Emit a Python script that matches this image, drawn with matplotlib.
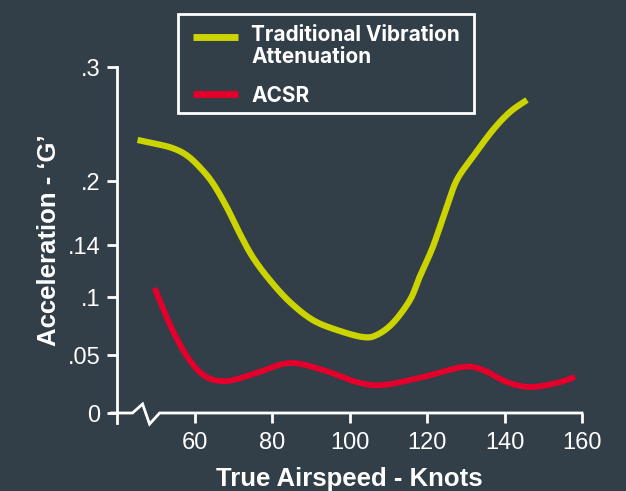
"""Vibration level vs airspeed: traditional attenuation against ACSR."""

import matplotlib

matplotlib.use("Agg")
import matplotlib.pyplot as plt
import matplotlib.transforms as mtransforms
from matplotlib.lines import Line2D
from matplotlib.patches import Rectangle
import numpy as np


PALETTE = {
    "bg": "#323E48",
    "ink": "#FFFFFF",
    "yellow": "#CCD400",
    "red": "#E4002B",
}

# data (knots, G)
trad_knots = [45.3, 50.2, 54.3, 57.9, 61.3, 64.7, 68.3, 71.6, 75.0, 79.4, 84.6, 90.5,
              96.7, 103.4, 107.0, 111.2, 115.6, 118.1, 121.5, 125.1, 127.7, 131.8,
              137.0, 141.4, 145.8]
trad_g = [0.236, 0.2325, 0.2289, 0.2228, 0.2123, 0.1981, 0.1756, 0.1513, 0.1308, 0.1131,
          0.0957, 0.0802, 0.0716, 0.0655, 0.0672, 0.0776, 0.0974, 0.1154, 0.1385, 0.1756,
          0.2009, 0.2211, 0.2447, 0.2605, 0.2711]

acsr_knots = [49.7, 54.3, 58.7, 63.1, 68.5, 76.0, 84.5, 93.1, 101.9, 108.6,
              118.9, 129.3, 134.4, 140.6, 146.6, 153.5, 158.2]
acsr_g = [0.1069, 0.0716, 0.0457, 0.031, 0.0276, 0.0345, 0.0431, 0.0371, 0.0267, 0.0241,
          0.031, 0.0397, 0.0371, 0.0267, 0.0224, 0.0259, 0.031]

x_ticks = [60, 80, 100, 120, 140, 160]
y_ticks = [0, 0.05, 0.1, 0.14, 0.2, 0.3]
y_tick_labels = ["0", ".05", ".1", ".14", ".2", ".3"]
# the printed axis is not linear: relative spacing of the gridded ticks
y_tick_pos = [0, 58, 116, 168, 232, 346]


def y_forward(v):
    return np.interp(v, y_ticks, y_tick_pos)


def y_inverse(p):
    return np.interp(p, y_tick_pos, y_ticks)


def smooth(xs, ys, n=24):
    """Catmull-Rom pass through the points in scaled space (drawing only)."""
    pts = np.column_stack([xs, y_forward(np.asarray(ys))])
    pts = np.vstack([2 * pts[0] - pts[1], pts, 2 * pts[-1] - pts[-2]])
    out = []
    t = np.linspace(0, 1, n, endpoint=False)[:, None]
    for i in range(1, len(pts) - 2):
        p0, p1, p2, p3 = pts[i - 1], pts[i], pts[i + 1], pts[i + 2]
        seg = 0.5 * ((2 * p1) + (-p0 + p2) * t + (2 * p0 - 5 * p1 + 4 * p2 - p3) * t ** 2
                     + (-p0 + 3 * p1 - 3 * p2 + p3) * t ** 3)
        out.append(seg)
    out.append(pts[-2][None, :])
    out = np.vstack(out)
    return out[:, 0], y_inverse(out[:, 1])


plt.rcParams.update({
    "font.family": ["Liberation Sans", "DejaVu Sans"],
    "text.color": PALETTE["ink"],
    "axes.labelcolor": PALETTE["ink"],
    "axes.edgecolor": PALETTE["ink"],
    "xtick.color": PALETTE["ink"],
    "ytick.color": PALETTE["ink"],
})

fig = plt.figure(figsize=(6.26, 4.91), dpi=100, facecolor=PALETTE["bg"])
ax = fig.add_axes([117 / 626, 78 / 491, 465 / 626, 346 / 491], facecolor=PALETTE["bg"])
ax.set_yscale("function", functions=(y_forward, y_inverse))
ax.set_xlim(40, 160)
ax.set_ylim(0, 0.3)

for key in ("top", "right", "bottom"):
    ax.spines[key].set_visible(False)
ax.spines["left"].set_linewidth(2)
ax.spines["left"].set_bounds(0, 0.3)

ax.set_xticks(x_ticks, [str(v) for v in x_ticks])
ax.set_yticks(y_ticks, y_tick_labels)
ax.tick_params(axis="both", labelsize=17, width=2, length=7, pad=5)
ax.tick_params(axis="x", pad=7)

# bottom axis with break mark, drawn by hand
blend = mtransforms.blended_transform_factory(ax.transData, ax.transAxes)
ax.plot([38.6, 40, 44.0, 46.6, 48.4, 51.0, 160],
        [0, 0, 0, 0.026, -0.032, 0, 0],
        transform=blend, color=PALETTE["ink"], lw=2, clip_on=False,
        solid_joinstyle="miter", zorder=3)
ax.plot([40, 40], [0, -0.03], transform=blend, color=PALETTE["ink"], lw=2, clip_on=False)

tx, ty = smooth(trad_knots, trad_g)
ax.plot(tx, ty, color=PALETTE["yellow"], lw=4.5, solid_capstyle="butt", zorder=4)
rx, ry = smooth(acsr_knots, acsr_g)
ax.plot(rx, ry, color=PALETTE["red"], lw=4.2, solid_capstyle="butt", zorder=4)

ax.set_xlabel("True Airspeed - Knots", fontsize=18.5, fontweight="bold", labelpad=9)
ax.set_ylabel("Acceleration - \u2018G\u2019", fontsize=18.5, fontweight="bold", labelpad=5)

# legend box drawn in figure pixels
W, H = 626, 491
fig.patches.append(Rectangle((178 / W, 1 - 113 / H), (474 - 178) / W, (113 - 14) / H,
                             transform=fig.transFigure, fill=False,
                             edgecolor=PALETTE["ink"], lw=2))
for ypx, col in ((37, PALETTE["yellow"]), (94, PALETTE["red"])):
    fig.add_artist(Line2D([193 / W, 238 / W], [1 - ypx / H] * 2, transform=fig.transFigure,
                          color=col, lw=5, solid_capstyle="butt"))
legend_font = dict(fontsize=15, fontweight="bold", family=["Inter", "DejaVu Sans"],
                   va="center", ha="left", transform=fig.transFigure)
fig.text(251 / W, 1 - 46 / H, "Traditional Vibration\nAttenuation", linespacing=1.1,
         **legend_font)
fig.text(251 / W, 1 - 96 / H, "ACSR", **legend_font)

fig.savefig("out.png", dpi=100, facecolor=PALETTE["bg"])
